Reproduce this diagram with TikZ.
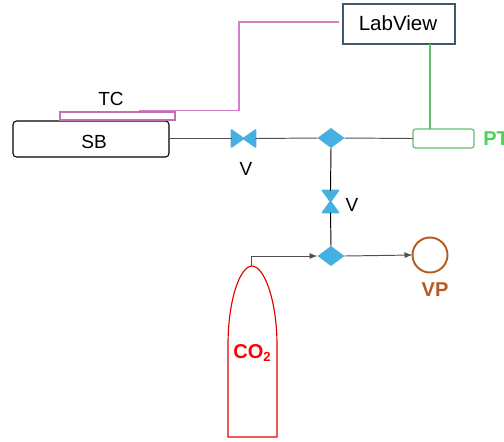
\documentclass[tikz,border=0pt]{standalone}
\usepackage{fontspec}
\setmainfont{Liberation Sans}
\usetikzlibrary{arrows.meta,shapes.geometric}

\definecolor{azulValvula}{HTML}{45B0E1}
\definecolor{rosaTC}{HTML}{D57FCA}
\definecolor{verdePT}{HTML}{5FC06C}
\definecolor{verdeTexto}{HTML}{47D459}
\definecolor{pizarra}{HTML}{3F5A6B}
\definecolor{marronVP}{HTML}{B85A1E}
\definecolor{gris}{HTML}{505050}

\tikzset{
    caja/.style={draw,inner sep=0pt,outer sep=0pt},
    valvula/.style={inner sep=0pt,outer sep=0pt},
    union/.style={diamond,fill=azulValvula,inner sep=0pt,outer sep=0pt},
    tubo/.style={draw=gris,line width=0.55pt},
    flecha/.style={tubo,-{Latex[length=1.6mm,width=1.2mm]}},
    etiqueta/.style={font=\fontsize{10.8}{12}\selectfont},
    negrita/.style={font=\fontsize{11.4}{13}\selectfont\bfseries}
}

\begin{document}
\begin{tikzpicture}[x=0.02cm,y=-0.02cm]
    \useasboundingbox (0,0) rectangle (504,441);

    % Define las cajas principales.
    \node[caja,rounded corners=2pt,line width=0.6pt,minimum width=3.12cm,minimum height=0.72cm] (SB) at (91,139) {};
    \node[caja,draw=rosaTC!90!black,line width=0.7pt,minimum width=2.3cm,minimum height=0.16cm] (TC) at (117.5,116) {};
    \node[caja,draw=pizarra,line width=0.8pt,minimum width=2.24cm,minimum height=0.8cm] (LV) at (399,24) {};
    \node[caja,draw=verdePT,rounded corners=1.5pt,line width=0.7pt,minimum width=1.22cm,minimum height=0.38cm] (PT) at (443.5,138.5) {};
    \node[circle,draw=marronVP,line width=1.1pt,inner sep=0pt,outer sep=0pt,minimum size=0.7cm] (VP) at (430,255) {};

    % Define las uniones y las valvulas.
    \node[union,minimum width=0.54cm,minimum height=0.4cm] (U1) at (331,138) {};
    \node[union,minimum width=0.54cm,minimum height=0.4cm] (U2) at (331,256) {};
    \node[valvula,minimum width=0.48cm,minimum height=0.34cm] (V1) at (243.5,138.5) {};
    \node[valvula,minimum width=0.32cm,minimum height=0.44cm] (V2) at (330.5,201.5) {};
    \filldraw[azulValvula,line width=0.9pt,line join=round] (V1.north west) -- (V1.south east) -- (V1.north east) -- (V1.south west) -- cycle;
    \filldraw[azulValvula,line width=0.9pt,line join=round] (V2.north west) -- (V2.north east) -- (V2.south west) -- (V2.south east) -- cycle;

    % Dibuja la botella.
    \coordinate (CO2top) at (252,266);
    \coordinate (CO2esquina) at (228,437);
    \draw[red!90!black,line width=0.65pt] (CO2esquina) -- (228,345) .. controls (228,300) and (240,266) .. (CO2top)
        .. controls (264,266) and (277,300) .. (277,345) -- (277,437) -- cycle;

    % Dibuja las tuberias.
    \draw[tubo] (SB.east |- V1.west) -- (V1.west);
    \draw[tubo] (V1.east) -- (U1.west);
    \draw[tubo] (U1.east) -- (PT.west);
    \draw[black,line width=0.55pt] (U1.south) -- (V2.north);
    \draw[black,line width=0.55pt] (V2.south) -- (U2.north);
    \coordinate (salida) at (251,266);
    \draw[flecha] (salida) |- (U2.west);
    \draw[flecha] (U2.east) -- (VP.west);

    % Dibuja los cables de las senales.
    \coordinate (inicioTC) at (139,110.5);
    \coordinate (finTC) at (339,22);
    \draw[rosaTC,line width=0.9pt] (inicioTC) -- (239,110.5) -- (239,22) -- (finTC);
    \draw[verdePT,line width=0.8pt] (LV.south -| 430,0) -- (PT.north -| 430,0);

    % Etiqueta los elementos.
    \node[etiqueta] (tTC) at (111,99) {TC};
    \node[etiqueta] (tSB) at (94,142) {SB};
    \node[font=\fontsize{11.7}{13}\selectfont] (tLV) at (398,23) {LabView};
    \node[etiqueta] (tV1) at (246,169) {V};
    \node[etiqueta] (tV2) at (352,205) {V};
    \node[negrita,anchor=west,inner sep=0pt,text=verdeTexto] (tPT) at (483,139) {PT};
    \node[negrita,text=marronVP] (tVP) at (435,290) {VP};
    \node[negrita,text=red] (tCO2) at (252,353) {CO\raisebox{-2.2pt}{\fontsize{7.5}{8}\selectfont 2}};
\end{tikzpicture}
\end{document}
